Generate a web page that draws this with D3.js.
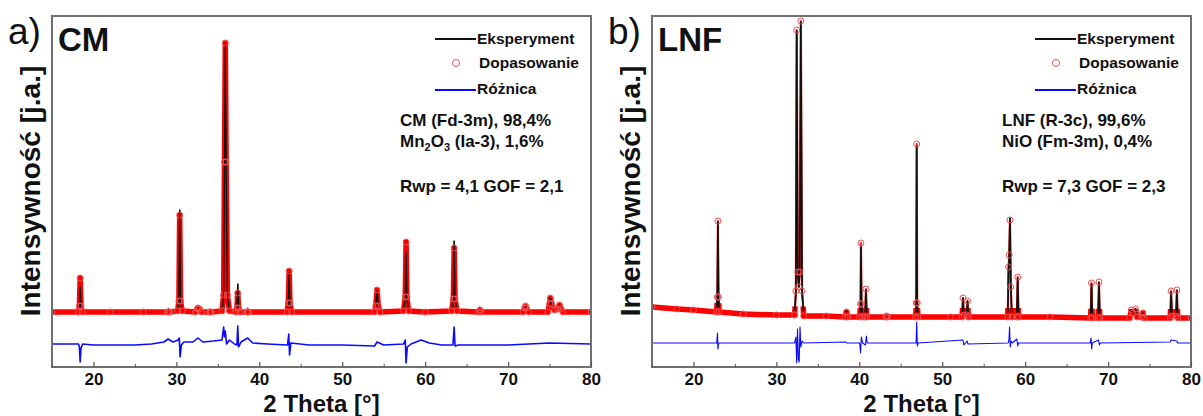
<!DOCTYPE html>
<html><head><meta charset="utf-8">
<script src="https://cdn.jsdelivr.net/npm/d3@7/dist/d3.min.js"></script>
<style>body{margin:0;background:#fff}svg{display:block}text{font-family:"Liberation Sans",Arial,sans-serif;fill:#111}</style>
</head><body><svg id="c" width="1203" height="416"></svg>
<script>
// ---------- shared axis data ----------
const xTicks = [20, 30, 40, 50, 60, 70, 80];
const xMinorTicks = [15, 25, 35, 45, 55, 65, 75];
const legendLabels = ["Eksperyment", "Dopasowanie", "Różnica"];

// ---------- panel a) CM ----------
const cmTheta = [15, 18.2, 18.3, 18.4, 18.5, 18.65, 22, 26, 28.9, 29.05, 29.2, 30.15, 30.3, 30.4, 30.5, 30.7,
  32.3, 32.5, 32.6, 32.8, 33.0, 34.0, 34.1, 34.2, 35.5, 35.7, 35.8, 35.9, 36.0, 36.15, 36.4,
  37.2, 37.3, 37.4, 37.5, 37.65, 38.5, 38.6, 38.7, 43.35, 43.5, 43.6, 43.7, 43.9,
  53.9, 54.05, 54.2, 54.35, 54.55, 57.4, 57.6, 57.7, 57.8, 58.0, 60.0,
  63.2, 63.4, 63.5, 63.6, 63.85, 66.45, 66.6, 66.75, 71.8, 72.0, 72.1, 72.2, 72.45,
  74.8, 75.0, 75.1, 75.25, 75.6, 75.95, 76.2, 76.4, 76.6, 80];
const cmExp = [55, 55, 59, 80, 59, 55, 55, 55, 55, 58, 55, 56, 66, 157, 66, 56,
  55, 59, 60, 58, 55, 55, 57, 55, 56, 72, 200, 322, 200, 72, 56,
  55, 61, 83, 61, 55, 55, 59, 55, 55, 64, 94, 64, 55,
  55, 61, 76, 61, 55, 56, 68, 114, 68, 56, 55,
  56, 68, 126, 68, 56, 55, 59, 55, 55, 59, 61, 59, 55,
  55, 63, 69, 63, 57, 58, 62, 58, 55, 55];
const cmFit = [55, 55, 61, 89, 61, 55, 55, 55, 55, 55, 55, 56, 66, 152, 66, 56,
  55, 58, 59, 58, 55, 55, 55, 55, 56, 72, 205, 324, 205, 72, 56,
  55, 59, 74, 59, 55, 55, 55, 55, 55, 64, 96, 64, 55,
  55, 61, 77, 61, 55, 56, 70, 125, 70, 56, 55,
  56, 68, 119, 68, 56, 55, 57, 55, 55, 59, 61, 59, 55,
  55, 63, 69, 63, 57, 58, 62, 58, 55, 55];
const cmDiffTheta = [15, 17, 18.2, 18.3, 18.4, 18.5, 18.7, 20, 25, 27, 28.5, 29, 29.6, 30.2, 30.35, 30.45, 30.6, 30.9,
  32, 32.6, 33.2, 34.5, 35.5, 35.7, 35.8, 35.9, 36.05, 36.4, 37.0, 37.3, 37.4, 37.5, 37.8, 38.6, 39.2, 41,
  43.4, 43.55, 43.65, 43.8, 46, 50, 53.9, 54.2, 55, 57.4, 57.6, 57.7, 57.85, 58.3, 59.5, 60.5, 62,
  63.35, 63.5, 63.6, 64, 70, 75, 80];
const cmDiff = [23, 23, 23, 20, 5, 19, 23, 22, 22, 23, 25, 28, 25, 27, 29, 10, 22, 25,
  25, 29, 25, 26, 27, 40, 30, 36, 23, 27, 23, 22, 41, 20, 25, 29, 24, 23,
  22, 33, 12, 24, 22, 22, 21, 25, 22, 23, 27, 4, 20, 23, 27, 24, 22,
  22, 40, 21, 22, 22, 24, 23];
const cmBgTheta = [15, 80];
const cmBg = [55, 55];
const cmPhases = ["CM (Fd-3m), 98,4%", ["Mn", "2", "O", "3", " (Ia-3), 1,6%"]];
const cmStats = "Rwp = 4,1 GOF = 2,1";

// ---------- panel b) LNF ----------
const lnfTheta = [15, 18, 20, 22.8, 22.88, 22.95, 23.02, 23.1, 26, 30, 32.2, 32.35, 32.45, 32.58, 32.7, 32.82, 32.95, 33.1, 33.3,
  36, 38.3, 38.45, 38.6, 40.05, 40.15, 40.2, 40.27, 40.4, 40.7, 40.8, 40.9, 43.2, 43.3, 43.4,
  46.8, 46.87, 46.92, 46.98, 47.08, 51, 52.4, 52.5, 52.6, 52.95, 53.05, 53.15,
  57.9, 58.0, 58.08, 58.17, 58.27, 58.4, 59.0, 59.1, 59.2, 63,
  67.9, 68.0, 68.1, 68.8, 68.9, 69.0, 72.6, 72.8, 73.0, 73.3, 73.5, 74.05, 74.2, 74.35,
  77.5, 77.6, 77.7, 78.2, 78.3, 78.4, 80];
const lnfExp = [60, 58, 57, 55, 70, 145, 70, 55, 53, 52, 52, 75, 336, 95, 80, 95, 345, 75, 51,
  51, 50, 56, 50, 50, 62, 120, 62, 50, 50, 77, 50, 50, 52, 50,
  50, 64, 221, 64, 50, 50, 50, 69, 52, 52, 66, 50,
  50, 99, 110, 149, 80, 50, 50, 89, 50, 50,
  49, 83, 49, 49, 84, 49, 49, 57, 54, 58, 50, 50, 54, 49,
  49, 75, 51, 51, 76, 49, 49];
const lnfFit = [60, 58, 57, 55, 70, 146, 70, 55, 53, 52, 52, 76, 337, 95, 80, 95, 346, 76, 51,
  51, 50, 55, 50, 50, 63, 124, 63, 50, 50, 78, 50, 50, 51, 50,
  50, 64, 223, 64, 50, 50, 50, 69, 52, 52, 66, 50,
  50, 100, 112, 147, 80, 50, 50, 90, 50, 50,
  49, 84, 49, 49, 85, 49, 49, 57, 54, 58, 50, 50, 54, 49,
  49, 76, 51, 51, 77, 49, 49];
const lnfDiffTheta = [15, 22.8, 22.9, 22.95, 23.05, 32.2, 32.35, 32.45, 32.55, 32.65, 32.75, 32.85, 32.95, 33.1, 33.3,
  38.4, 38.5, 40.05, 40.15, 40.25, 40.4, 40.75, 40.85, 40.95, 46.85, 46.92, 47.0, 47.1,
  52.5, 52.6, 53.0, 53.1, 57.95, 58.05, 58.12, 58.2, 58.3, 58.45, 59.0, 59.1, 59.2,
  67.85, 67.95, 68.02, 68.1, 68.85, 68.95, 69.05, 77.5, 77.6, 78.3, 78.4, 80];
const lnfDiff = [24, 24, 34, 18, 24, 24, 30, 4, 38, 8, 5, 40, 20, 26, 24,
  25, 24, 24, 14, 30, 24, 22, 31, 24, 24, 45, 21, 24,
  27, 22, 26, 23, 24, 28, 40, 20, 26, 24, 28, 21, 24,
  24, 29, 18, 24, 27, 22, 24, 25, 27, 26, 24, 24];
const lnfBgTheta = [15, 18, 20, 23, 26, 30, 36, 40, 63, 70, 80];
const lnfBg = [60, 58, 57, 55, 53, 52, 51, 50, 50, 49, 49];
const lnfPhases = ["LNF (R-3c), 99,6%", ["NiO (Fm-3m), 0,4%"]];
const lnfStats = "Rwp = 7,3 GOF = 2,3";

// ---------- drawing ----------
const svg = d3.select("#c");
const defs = svg.append("defs");
const FONT = '"Liberation Sans", Arial, sans-serif';
const pair = (a, b) => a.map((t, i) => [t, b[i]]);

const panels = [
  {id: "a", x0: 52, x1: 591, label: "a)", name: "CM", theta: cmTheta, exp: cmExp, fit: cmFit,
   dTheta: cmDiffTheta, diff: cmDiff, bgTheta: cmBgTheta, bg: cmBg, phases: cmPhases, stats: cmStats,
   legX: 435, annX: 400, blueW: 1.6, bandOnPeaks: true},
  {id: "b", x0: 652, x1: 1191, label: "b)", name: "LNF", theta: lnfTheta, exp: lnfExp, fit: lnfFit,
   dTheta: lnfDiffTheta, diff: lnfDiff, bgTheta: lnfBgTheta, bg: lnfBg, phases: lnfPhases, stats: lnfStats,
   legX: 1035, annX: 1002, blueW: 1.1, bandOnPeaks: false}
];

panels.forEach(p => {
  const x = d3.scaleLinear().domain([15, 80]).range([p.x0, p.x1]);
  const y = d3.scaleLinear().domain([0, 351]).range([367, 16]);
  const g = svg.append("g");
  const bgPts = pair(p.bgTheta, p.bg);

  defs.append("clipPath").attr("id", "plot" + p.id).append("rect")
    .attr("x", p.x0).attr("y", 16).attr("width", p.x1 - p.x0).attr("height", 351);
  defs.append("clipPath").attr("id", "peak" + p.id).append("path")
    .attr("d", d3.area().x(d => x(d[0])).y0(0).y1(d => y(d[1]) - 4.5)(bgPts));
  defs.append("clipPath").attr("id", "base" + p.id).append("path")
    .attr("d", d3.area().x(d => x(d[0])).y0(420).y1(d => y(d[1]) - 9)(bgPts));

  const line = d3.line().x(d => x(d[0])).y(d => y(d[1]));
  const plot = g.append("g").attr("clip-path", `url(#plot${p.id})`);

  const expPts = pair(p.theta, p.exp);
  const fitPts = pair(p.theta, p.fit);
  const diffPts = pair(p.dTheta, p.diff);

  plot.append("path").attr("d", line(diffPts)).attr("fill", "none")
    .attr("stroke", "#0a0aff").attr("stroke-width", p.blueW).attr("stroke-linejoin", "round");
  plot.append("path").attr("d", line(expPts)).attr("fill", "none")
    .attr("stroke", "#111").attr("stroke-width", 1.2);
  if (!p.bandOnPeaks) {
    plot.append("path").attr("d", line(fitPts)).attr("fill", "none")
      .attr("stroke", "#f03030").attr("stroke-width", 2.2).attr("stroke-linejoin", "round");
  }
  const bandHolder = p.bandOnPeaks ? plot : plot.append("g").attr("clip-path", `url(#base${p.id})`);
  bandHolder.append("path").attr("d", line(fitPts)).attr("fill", "none")
    .attr("stroke", "#ff0000").attr("stroke-width", 5.5).attr("stroke-linejoin", "round").attr("stroke-linecap", "round");
  plot.append("g").attr("clip-path", `url(#peak${p.id})`)
    .append("path").attr("d", line(expPts)).attr("fill", "none")
    .attr("stroke", "#111").attr("stroke-width", p.bandOnPeaks ? 1.4 : 1.7).attr("stroke-linejoin", "round");
  plot.append("g").selectAll("circle").data(fitPts).join("circle")
    .attr("cx", d => x(d[0])).attr("cy", d => y(d[1])).attr("r", 3)
    .attr("fill", "none").attr("stroke", "#f05050").attr("stroke-width", 1);

  // frame
  g.append("rect").attr("x", p.x0).attr("y", 16).attr("width", p.x1 - p.x0).attr("height", 351)
    .attr("fill", "none").attr("stroke", "#707070").attr("stroke-width", 2);

  // axes
  const ax = g.append("g").attr("transform", "translate(0,367)")
    .call(d3.axisBottom(x).tickValues(xTicks).tickSize(-5).tickPadding(6).tickFormat(d3.format("d")));
  ax.select(".domain").remove();
  ax.selectAll("line").attr("stroke", "#555").attr("stroke-width", 1.2);
  ax.selectAll("text").attr("font-size", 17).attr("font-weight", "bold").attr("font-family", FONT).attr("fill", "#111");
  const axm = g.append("g").attr("transform", "translate(0,367)")
    .call(d3.axisBottom(x).tickValues(xMinorTicks).tickSize(-3).tickFormat(""));
  axm.select(".domain").remove();
  axm.selectAll("line").attr("stroke", "#555").attr("stroke-width", 1);

  // titles
  g.append("text").attr("x", (p.x0 + p.x1) / 2).attr("y", 412).attr("text-anchor", "middle")
    .attr("font-size", 24).attr("font-weight", "bold").text("2 Theta [°]");
  g.append("text").attr("transform", `translate(${p.x0 - 12},191) rotate(-90)`).attr("text-anchor", "middle")
    .attr("font-size", 28).attr("font-weight", "bold").text("Intensywność [j.a.]");
  g.append("text").attr("x", p.x0 - 44).attr("y", 44).attr("font-size", 37).text(p.label);
  g.append("text").attr("x", p.x0 + 6).attr("y", 51).attr("font-size", 33).attr("font-weight", "bold").text(p.name);

  // legend
  const lg = g.append("g");
  lg.append("line").attr("x1", p.legX).attr("x2", p.legX + 41).attr("y1", 39).attr("y2", 39)
    .attr("stroke", "#111").attr("stroke-width", 2);
  lg.append("circle").attr("cx", p.legX + 21).attr("cy", 63).attr("r", 3.5)
    .attr("fill", "none").attr("stroke", "#f05050").attr("stroke-width", 1);
  lg.append("line").attr("x1", p.legX).attr("x2", p.legX + 41).attr("y1", 90).attr("y2", 90)
    .attr("stroke", "#0a0aff").attr("stroke-width", 2);
  [44, 68, 94].forEach((yy, i) => {
    lg.append("text").attr("x", i === 1 ? p.legX + 44 : p.legX + 42).attr("y", yy)
      .attr("font-size", 15.5).attr("font-weight", "bold").text(legendLabels[i]);
  });

  // annotations
  g.append("text").attr("x", p.annX).attr("y", 126).attr("font-size", 17).attr("font-weight", "bold").text(p.phases[0]);
  const t2 = g.append("text").attr("x", p.annX).attr("y", 147).attr("font-size", 17).attr("font-weight", "bold");
  if (p.phases[1].length === 1) {
    t2.text(p.phases[1][0]);
  } else {
    const parts = p.phases[1];
    t2.append("tspan").text(parts[0]);
    t2.append("tspan").attr("font-size", 11).attr("dy", 4).text(parts[1]);
    t2.append("tspan").attr("dy", -4).text(parts[2]);
    t2.append("tspan").attr("font-size", 11).attr("dy", 4).text(parts[3]);
    t2.append("tspan").attr("dy", -4).text(parts[4]);
  }
  g.append("text").attr("x", p.annX).attr("y", 192).attr("font-size", 17).attr("font-weight", "bold").text(p.stats);
});
</script>
</body></html>
